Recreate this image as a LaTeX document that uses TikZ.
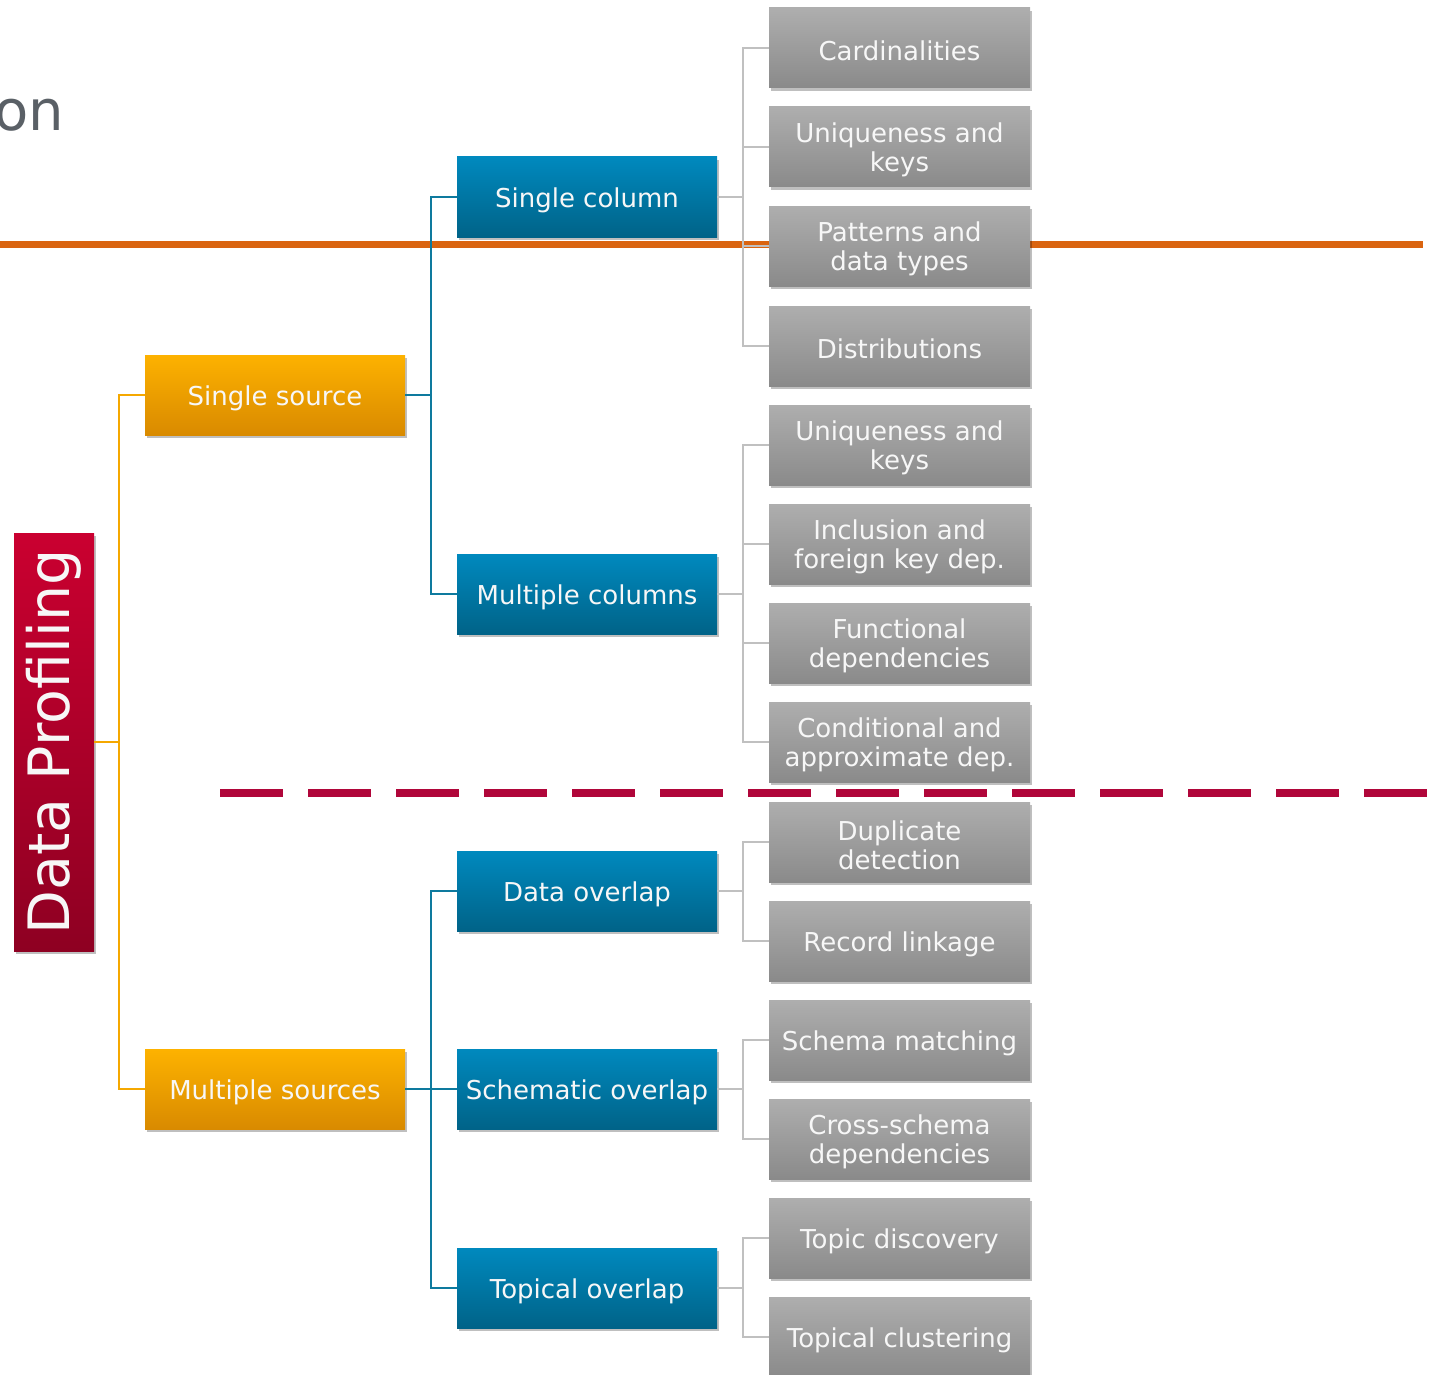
\documentclass[tikz,border=0pt]{standalone}
\usepackage{fontspec}
\setmainfont{DejaVu Sans}
\usetikzlibrary{shadows}
\definecolor{grayT}{HTML}{AEAEAE}
\definecolor{grayB}{HTML}{8A8A8A}
\definecolor{blueT}{HTML}{0089BE}
\definecolor{blueB}{HTML}{006388}
\definecolor{oraT}{HTML}{FDB200}
\definecolor{oraB}{HTML}{D98A00}
\definecolor{redT}{HTML}{CA0030}
\definecolor{redB}{HTML}{8E0022}
\definecolor{oline}{HTML}{DA6410}
\definecolor{rline}{HTML}{B0063A}
\definecolor{oconn}{HTML}{F5A800}
\definecolor{bconn}{HTML}{0E7A9E}
\definecolor{gconn}{HTML}{C0C0C0}
\definecolor{titlegray}{HTML}{5A6066}
\definecolor{boxtext}{HTML}{F7F7F7}
\tikzset{
  boxlabel/.style={inner sep=0pt, align=center, text=boxtext, yshift=-3pt,
    font=\fontsize{26}{29}\selectfont},
  txt/.style={label={[boxlabel]center:{#1}}},
  basebox/.style={rectangle, inner sep=2pt, minimum height=80pt,
    drop shadow={shadow xshift=2pt, shadow yshift=-3pt, opacity=0.25, fill=black}},
  graybox/.style={basebox, minimum width=261pt, top color=grayT, bottom color=grayB},
  bluebox/.style={basebox, minimum width=260pt, top color=blueT, bottom color=blueB},
  orangebox/.style={basebox, minimum width=260pt, top color=oraT, bottom color=oraB},
  redbox/.style={basebox, minimum width=80pt, minimum height=418pt, top color=redT, bottom color=redB,
    text=boxtext, font=\fontsize{57}{60}\selectfont},
  oc/.style={draw=oconn, line width=2pt},
  bc/.style={draw=bconn, line width=2pt},
  gc/.style={draw=gconn, line width=2pt},
}
\begin{document}
\begin{tikzpicture}[x=1pt,y=-1pt]
\useasboundingbox (0,0) rectangle (1434,1375);
% title fragment
\node[anchor=base east, text=titlegray, font=\fontsize{56}{60}\selectfont, inner sep=0pt] (title) at (64,131) {on};
% separator lines
\draw[draw=oline, line width=7pt] (0,244) coordinate (ol1) -- (1423,244) coordinate (ol2);
\draw[draw=rline, line width=8pt, dash pattern=on 63pt off 25pt] (220,793) coordinate (rl1) -- (1434,793) coordinate (rl2);

% nodes
\node[redbox] (dp) at (54,742) {\rotatebox{90}{Data Profiling}};
\node[orangebox, txt={Single source}] (ss) at (275,395) {};
\node[orangebox, txt={Multiple sources}] (ms) at (275,1089) {};

\node[bluebox, txt={Single column}] (sc) at (587,197) {};
\node[bluebox, txt={Multiple columns}] (mc) at (587,594) {};
\node[bluebox, txt={Data overlap}] (do) at (587,891) {};
\node[bluebox, txt={Schematic overlap}] (so) at (587,1089) {};
\node[bluebox, txt={Topical overlap}] (to) at (587,1288) {};

\node[graybox, txt={Cardinalities}] (g1) at (899.5,48) {};
\node[graybox, txt={Uniqueness and\\keys}] (g2) at (899.5,147) {};
\node[graybox, txt={Patterns and\\data types}] (g3) at (899.5,246) {};
\node[graybox, txt={Distributions}] (g4) at (899.5,346) {};
\node[graybox, txt={Uniqueness and\\keys}] (g5) at (899.5,445) {};
\node[graybox, txt={Inclusion and\\foreign key dep.}] (g6) at (899.5,544) {};
\node[graybox, txt={Functional\\dependencies}] (g7) at (899.5,643) {};
\node[graybox, txt={Conditional and\\approximate dep.}] (g8) at (899.5,742) {};
\node[graybox, txt={Duplicate\\detection}] (g9) at (899.5,842) {};
\node[graybox, txt={Record linkage}] (g10) at (899.5,941) {};
\node[graybox, txt={Schema matching}] (g11) at (899.5,1040) {};
\node[graybox, txt={Cross-schema\\dependencies}] (g12) at (899.5,1139) {};
\node[graybox, txt={Topic discovery}] (g13) at (899.5,1238) {};
\node[graybox, txt={Topical clustering}] (g14) at (899.5,1337) {};

% connectors
\path (dp.east) -- ++(25,0) coordinate (dj);
\draw[oc] (dp.east) -- (dj);
\draw[oc] (dj) |- (ss.west);
\draw[oc] (dj) |- (ms.west);

\path (ss.east) -- ++(26,0) coordinate (sj);
\draw[bc] (ss.east) -- (sj);
\draw[bc] (sj) |- (sc.west);
\draw[bc] (sj) |- (mc.west);

\path (ms.east) -- ++(26,0) coordinate (mj);
\draw[bc] (ms.east) -- (mj);
\draw[bc] (mj) |- (do.west);
\draw[bc] (mj) |- (so.west);
\draw[bc] (mj) |- (to.west);

\foreach \p/\cs in {sc/{g1,g2,g3,g4}, mc/{g5,g6,g7,g8}, do/{g9,g10}, so/{g11,g12}, to/{g13,g14}}{
  \path (\p.east) -- ++(26,0) coordinate (\p j);
  \draw[gc] (\p.east) -- (\p j);
  \foreach \c in \cs { \draw[gc] (\p j) |- (\c.west); }
}
\end{tikzpicture}
\end{document}
